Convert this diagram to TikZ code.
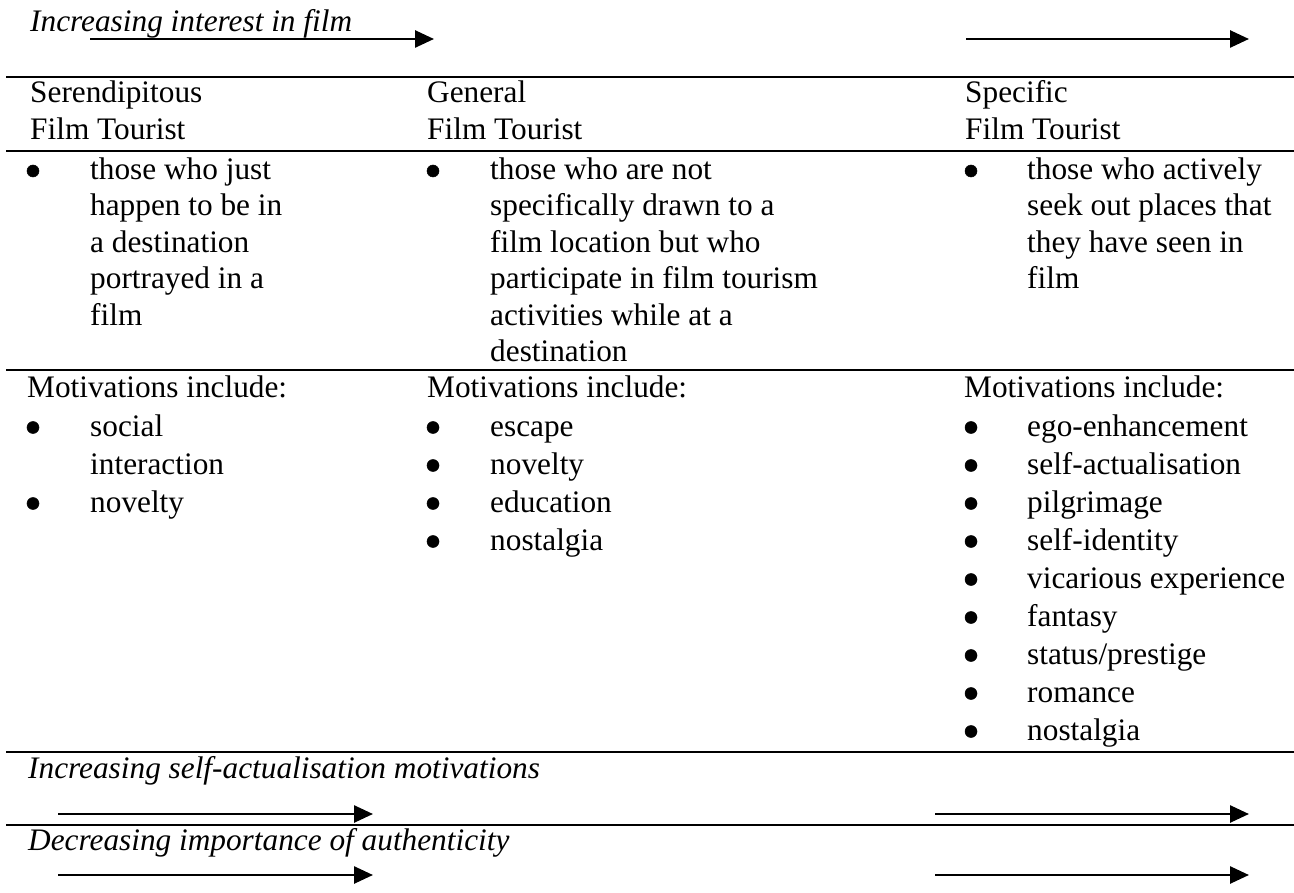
\documentclass[tikz,border=0pt]{standalone}
\usepackage{fontspec}
\setmainfont{Liberation Serif}
\usetikzlibrary{arrows.meta}
\begin{document}
\begin{tikzpicture}[x=1pt,y=-1pt,
  txt/.style={anchor=base west,inner sep=0pt,font=\fontsize{31.3}{36.5}\selectfont},
  itx/.style={txt,font=\fontsize{31.3}{36.5}\selectfont\itshape},
  bul/.style={circle,fill=black,draw=black,line width=0.5pt,inner sep=0pt,minimum size=12pt},
  rule/.style={line width=2.2pt},
  arr/.style={line width=2.6pt,-{Triangle[length=19pt,width=17pt]}}]
\useasboundingbox[fill=white] (0,0) rectangle (1294,893);

% horizontal rules
\coordinate (r1a) at (6,77);  \coordinate (r1b) at (1294,77);
\coordinate (r2a) at (6,151); \coordinate (r2b) at (1294,151);
\coordinate (r3a) at (6,370); \coordinate (r3b) at (1294,370);
\coordinate (r4a) at (6,752); \coordinate (r4b) at (1294,752);
\coordinate (r5a) at (6,825); \coordinate (r5b) at (1294,825);
\foreach \r in {r1,r2,r3,r4,r5} \draw[rule] (\r a) -- (\r b);

% top label and arrows
\node[itx] (t1) at (30,32) {Increasing interest in film};
\coordinate (a1s) at (90,39);  \coordinate (a1e) at (434,39);
\coordinate (a2s) at (966,39); \coordinate (a2e) at (1249,39);
\draw[arr] (a1s) -- (a1e);
\draw[arr] (a2s) -- (a2e);

% headers
\node[txt] (h1a) at (30,103) {Serendipitous};
\node[txt] (h1b) at (30,140) {Film Tourist};
\node[txt] (h2a) at (427,103) {General};
\node[txt] (h2b) at (427,140) {Film Tourist};
\node[txt] (h3a) at (965,103) {Specific};
\node[txt] (h3b) at (965,140) {Film Tourist};

% descriptions
\node[bul] (d1b) at (33,171) {};
\node[txt] (d1l1) at (90,179.3) {those who just};
\node[txt] (d1l2) at (90,215.8) {happen to be in};
\node[txt] (d1l3) at (90,252.3) {a destination};
\node[txt] (d1l4) at (90,288.8) {portrayed in a};
\node[txt] (d1l5) at (90,325.3) {film};

\node[bul] (d2b) at (433,171) {};
\node[txt] (d2l1) at (490,179.3) {those who are not};
\node[txt] (d2l2) at (490,215.8) {specifically drawn to a};
\node[txt] (d2l3) at (490,252.3) {film location but who};
\node[txt] (d2l4) at (490,288.8) {participate in film tourism};
\node[txt] (d2l5) at (490,325.3) {activities while at a};
\node[txt] (d2l6) at (490,361.8) {destination};

\node[bul] (d3b) at (971,171) {};
\node[txt] (d3l1) at (1027,179.3) {those who actively};
\node[txt] (d3l2) at (1027,215.8) {seek out places that};
\node[txt] (d3l3) at (1027,252.3) {they have seen in};
\node[txt] (d3l4) at (1027,288.8) {film};

% motivations
\node[txt] (m1) at (27,398) {Motivations include:};
\node[txt] (m2) at (427,398) {Motivations include:};
\node[txt] (m3) at (964,398) {Motivations include:};

\node[bul] (m1b1) at (33,427.5) {};
\node[txt] (m1i1) at (90,436) {social};
\node[txt] (m1i1b) at (90,474) {interaction};
\node[bul] (m1b2) at (33,503.5) {};
\node[txt] (m1i2) at (90,512) {novelty};

\foreach \t [count=\k from 0] in {escape,novelty,education,nostalgia}{
  \node[bul] (m2b\k) at (433,427.5+38*\k) {};
  \node[txt] (m2i\k) at (490,436+38*\k) {\t};
}
\foreach \t [count=\k from 0] in {ego-enhancement,self-actualisation,pilgrimage,self-identity,vicarious experience,fantasy,status/prestige,romance,nostalgia}{
  \node[bul] (m3b\k) at (971,427.5+38*\k) {};
  \node[txt] (m3i\k) at (1027,436+38*\k) {\t};
}

% bottom labels and arrows
\node[itx] (t2) at (28,778) {Increasing self-actualisation motivations};
\coordinate (a3s) at (58,814);  \coordinate (a3e) at (373,814);
\coordinate (a4s) at (935,814); \coordinate (a4e) at (1249,814);
\draw[arr] (a3s) -- (a3e);
\draw[arr] (a4s) -- (a4e);

\node[itx] (t3) at (28,850) {Decreasing importance of authenticity};
\coordinate (a5s) at (58,875);  \coordinate (a5e) at (373,875);
\coordinate (a6s) at (935,875); \coordinate (a6e) at (1249,875);
\draw[arr] (a5s) -- (a5e);
\draw[arr] (a6s) -- (a6e);
\end{tikzpicture}
\end{document}
